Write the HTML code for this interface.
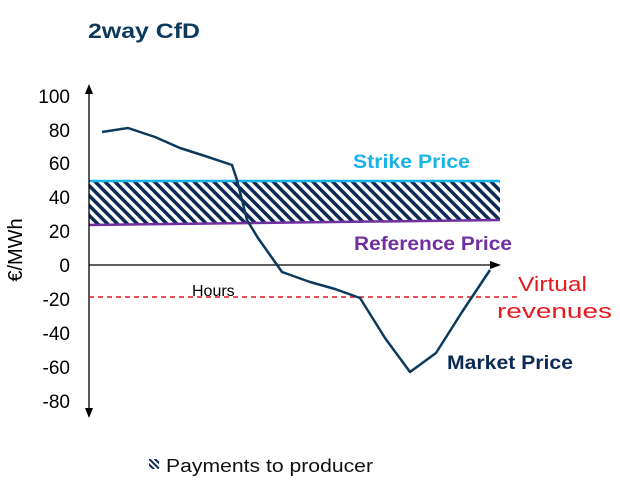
<!DOCTYPE html>
<html><head><style>
body{margin:0;background:#fff;}
svg{display:block;font-family:"Liberation Sans",sans-serif;}
</style></head><body>
<svg width="620" height="495" viewBox="0 0 620 495">
<defs>
<pattern id="h" width="7" height="7" patternUnits="userSpaceOnUse" patternTransform="rotate(-45)">
<rect width="7" height="7" fill="#fff"/><rect width="3.5" height="7" fill="#0d2a55"/>
</pattern>
<pattern id="h2" width="4" height="4" patternUnits="userSpaceOnUse" patternTransform="rotate(-45)">
<rect width="4" height="4" fill="#fff"/><rect width="2" height="4" fill="#0d2a55"/>
</pattern>
</defs>
<text x="88" y="38" font-size="21" font-weight="bold" fill="#0d3a5c" textLength="112" lengthAdjust="spacingAndGlyphs">2way CfD</text>
<polygon points="89,181 500,181 500,221 89,225" fill="url(#h)"/>
<line x1="89" y1="181" x2="500" y2="181" stroke="#19b3ea" stroke-width="2.5"/>
<line x1="89" y1="225" x2="500" y2="220" stroke="#7030a0" stroke-width="2.5"/>
<line x1="89" y1="90" x2="89" y2="412" stroke="#000" stroke-width="1.3"/>
<polygon points="89,84 85,94 93,94" fill="#000"/>
<polygon points="89,418 85,408 93,408" fill="#000"/>
<line x1="89" y1="265" x2="494" y2="265" stroke="#000" stroke-width="1.3"/>
<polygon points="501,265 490,261 490,269" fill="#000"/>
<line x1="89" y1="297" x2="520" y2="297" stroke="#e8191e" stroke-width="1.5" stroke-dasharray="5,4"/>
<polyline points="102,132 128,128 155,137 180,148 205,156 232,165 237,180 247,220 258,238 282,272 310,282 335,289 360,298 385,338 410,372 436,353 462,312 490,270" fill="none" stroke="#0d3a5c" stroke-width="2.5" stroke-linejoin="round"/>
<g font-size="19" fill="#000" text-anchor="end">
<text x="70" y="103">100</text><text x="70" y="137">80</text><text x="70" y="170">60</text>
<text x="70" y="204">40</text><text x="70" y="238">20</text><text x="70" y="272">0</text>
<text x="70" y="306">-20</text><text x="70" y="340">-40</text><text x="70" y="374">-60</text>
<text x="70" y="408">-80</text>
</g>
<text transform="translate(22,250) rotate(-90)" font-size="20" text-anchor="middle">€/MWh</text>
<text x="192" y="296" font-size="16">Hours</text>
<text x="353" y="168" font-size="19" font-weight="bold" fill="#19b3ea" textLength="117" lengthAdjust="spacingAndGlyphs">Strike Price</text>
<text x="354" y="250" font-size="19" font-weight="bold" fill="#7030a0" textLength="158" lengthAdjust="spacingAndGlyphs">Reference Price</text>
<text x="447" y="369" font-size="19" font-weight="bold" fill="#0d2a55" textLength="126" lengthAdjust="spacingAndGlyphs">Market Price</text>
<text x="518" y="291" font-size="20" fill="#e8191e" textLength="69" lengthAdjust="spacingAndGlyphs">Virtual</text>
<text x="497" y="318" font-size="20" fill="#e8191e" textLength="115" lengthAdjust="spacingAndGlyphs">revenues</text>
<rect x="149" y="459" width="10" height="10" fill="url(#h2)"/>
<text x="166" y="472" font-size="18" fill="#111" textLength="207" lengthAdjust="spacingAndGlyphs">Payments to producer</text>
</svg>
</body></html>
